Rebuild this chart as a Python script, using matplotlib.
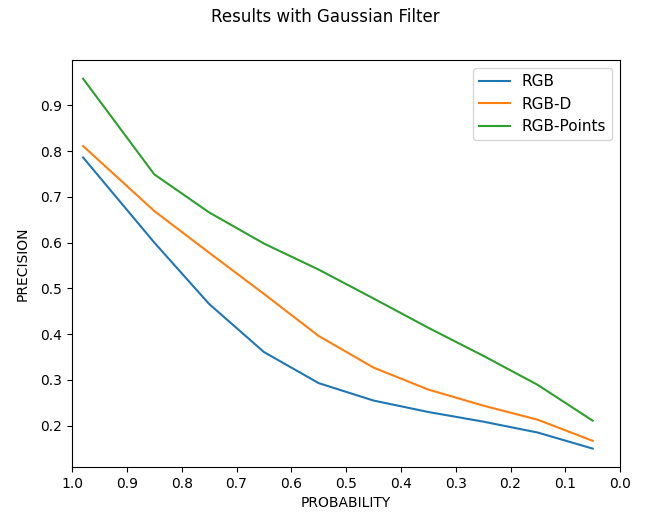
import matplotlib
matplotlib.use("Agg")
import matplotlib.pyplot as plt

probability = [0.98, 0.85, 0.75, 0.65, 0.55, 0.45, 0.35, 0.25, 0.15, 0.05]
rgb = [0.786, 0.600, 0.466, 0.361, 0.293, 0.255, 0.230, 0.209, 0.185, 0.150]
rgb_d = [0.811, 0.669, 0.578, 0.488, 0.396, 0.327, 0.279, 0.244, 0.213, 0.167]
rgb_points = [0.958, 0.749, 0.666, 0.598, 0.541, 0.478, 0.414, 0.353, 0.289, 0.211]

fig = plt.figure(figsize=(6.5, 5.15), dpi=100)
ax = fig.add_subplot(111)
fig.subplots_adjust(left=0.111, right=0.954, top=0.883, bottom=0.093)

ax.plot(probability, rgb, label="RGB")
ax.plot(probability, rgb_d, label="RGB-D")
ax.plot(probability, rgb_points, label="RGB-Points")
ax.set_xlim(1.0, 0.0)
ax.set_xticks([1.0, 0.9, 0.8, 0.7, 0.6, 0.5, 0.4, 0.3, 0.2, 0.1, 0.0])
ax.set_xlabel("PROBABILITY")
ax.set_ylabel("PRECISION", labelpad=8)
ax.legend(loc="upper right", fontsize=11)
fig.suptitle("Results with Gaussian Filter", y=0.985)
fig.savefig("out.png", dpi=100)
